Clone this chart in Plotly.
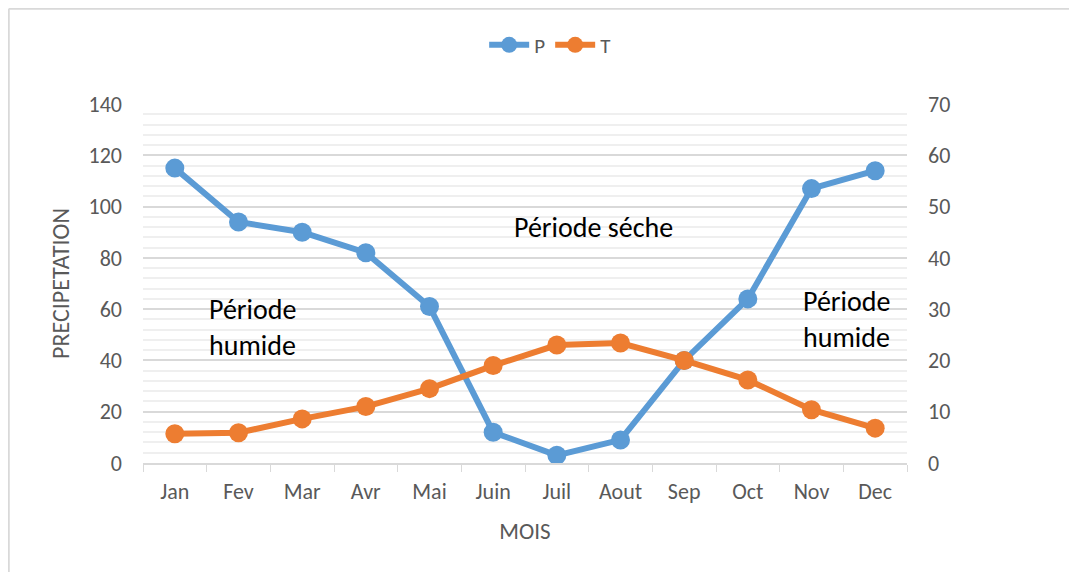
import plotly.graph_objects as go

mois = ["Jan", "Fev", "Mar", "Avr", "Mai", "Juin", "Juil", "Aout", "Sep", "Oct", "Nov", "Dec"]
precip = [115, 94, 90, 82, 61, 12, 3, 9, 40, 64, 107, 114]
temp = [5.7, 5.9, 8.6, 11, 14.5, 19, 23, 23.4, 20, 16.2, 10.4, 6.8]

BLUE = "#5B9BD5"
ORANGE = "#ED7D31"
GREY = "#595959"
FONT = "Calibri, Carlito, Lato, sans-serif"

fig = go.Figure()

fig.add_trace(go.Scatter(
    x=mois, y=precip, name="P", mode="lines+markers",
    line=dict(color=BLUE, width=6),
    marker=dict(color=BLUE, size=19),
))
fig.add_trace(go.Scatter(
    x=mois, y=temp, name="T", mode="lines+markers", yaxis="y2",
    line=dict(color=ORANGE, width=6),
    marker=dict(color=ORANGE, size=19),
))

# text labels for the periods
ann_font = dict(size=28, color="black", family=FONT)
fig.add_annotation(x=1.22, y=53, text="Période<br>humide", showarrow=False,
                   align="left", font=ann_font)
fig.add_annotation(x=6.57, y=92, text="Période séche", showarrow=False,
                   font=ann_font)
fig.add_annotation(x=10.55, y=56, text="Période<br>humide", showarrow=False,
                   align="left", font=ann_font)

# frame: only the top and left edges show in the original
frame = dict(color="#d9d9d9", width=2)
fig.add_shape(type="line", xref="paper", yref="paper",
              x0=-0.1757, x1=1.3, y0=1.265, y1=1.265, line=frame, layer="below")
fig.add_shape(type="line", xref="paper", yref="paper",
              x0=-0.1757, x1=-0.1757, y0=-0.4, y1=1.265, line=frame, layer="below")

# page body adds an 8px offset; figure kept small enough to avoid scrollbars
fig.update_layout(
    width=1061, height=564,
    margin=dict(l=135, r=162, t=96, b=109),
    plot_bgcolor="white", paper_bgcolor="white",
    font=dict(family=FONT, size=22, color=GREY),
    showlegend=True,
    legend=dict(orientation="h", xref="container", x=0.511, xanchor="center",
                yref="container", y=0.934, yanchor="middle",
                font=dict(size=21, color=GREY), itemwidth=40,
                tracegroupgap=0, itemsizing="trace"),
    xaxis=dict(
        title=dict(text="MOIS", font=dict(size=23, color=GREY), standoff=19),
        range=[-0.5, 11.5],
        showline=True, linecolor="#d9d9d9", linewidth=1.5,
        ticks="outside", tickson="boundaries", ticklen=7, tickcolor="#d9d9d9",
        showgrid=False, tickfont=dict(size=22, color=GREY), ticklabelstandoff=8,
    ),
    yaxis=dict(
        title=dict(text="PRECIPETATION", font=dict(size=24, color=GREY), standoff=12),
        range=[0, 140], dtick=20, showline=False, zeroline=False,
        gridcolor="#d9d9d9", gridwidth=1.5,
        minor=dict(dtick=4, showgrid=True, gridcolor="#efefef", gridwidth=1.5),
        tickfont=dict(size=22, color=GREY), ticklabelstandoff=20,
    ),
    yaxis2=dict(
        range=[0, 70], dtick=10, overlaying="y", side="right",
        showgrid=False, zeroline=False, showline=False,
        tickfont=dict(size=22, color=GREY), ticklabelstandoff=20,
    ),
)

fig.write_html("out.html")
